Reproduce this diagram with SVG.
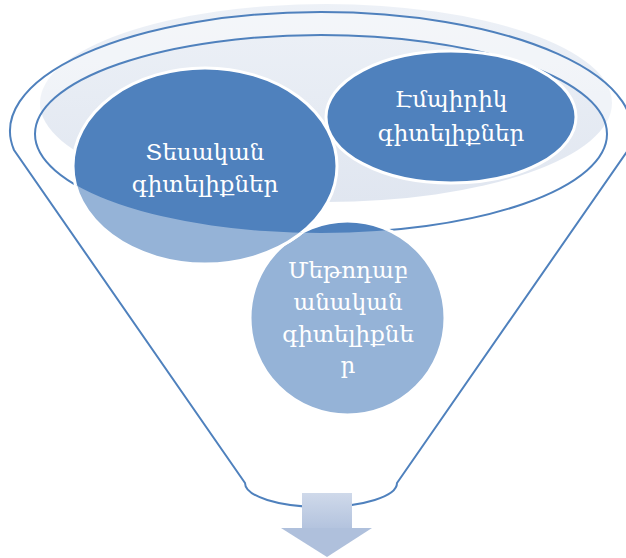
<svg xmlns="http://www.w3.org/2000/svg" width="626" height="558" viewBox="0 0 626 558">
<style>
.node{fill:#4F81BD;stroke:#FFFFFF;stroke-width:3}
.lite{fill:#95B3D7;stroke:#FFFFFF;stroke-width:3}
.line{fill:none;stroke:#4F81BD;stroke-width:2}
.lbl{font-family:"DejaVu Serif","Noto Sans",serif;font-size:23px;fill:#FFFFFF;text-anchor:middle}
</style>
<defs>
<linearGradient id="shade" x1="0" y1="0" x2="0" y2="1">
<stop offset="0" stop-color="#EDF1F7"/>
<stop offset="1" stop-color="#E0E6F0"/>
</linearGradient>
<linearGradient id="shaft" x1="0" y1="0" x2="0" y2="1">
<stop offset="0" stop-color="#CFD9EA"/>
<stop offset="1" stop-color="#B3C3DE"/>
</linearGradient>
<clipPath id="below">
<path d="M0,134 L35,134 A286,99 0 0 0 607,134 L626,134 L626,558 L0,558 Z"/>
</clipPath>
</defs>
<g id="funnel">
<ellipse cx="326" cy="103" rx="286" ry="99" fill="url(#shade)"/>
<path d="M14,150 A311,119 0 1 1 628,150 L397,483 A76,24 0 0 1 245,483 Z M35,134 A286,99 0 0 0 607,134 A286,99 0 0 0 35,134 Z" fill="#FFFFFF" fill-opacity="0.4" fill-rule="evenodd"/>
<path class="line" d="M14,150 A311,119 0 1 1 628,150 L397,483 A76,24 0 0 1 245,483 Z"/>
<ellipse class="line" cx="321" cy="134" rx="286" ry="99"/>
</g>
<g id="node3">
<ellipse class="node" cx="347.5" cy="318" rx="97.5" ry="97"/>
<ellipse class="lite" cx="347.5" cy="318" rx="97.5" ry="97" clip-path="url(#below)"/>
</g>
<g id="node1">
<ellipse class="node" cx="205" cy="166" rx="132" ry="98"/>
<ellipse class="lite" cx="205" cy="166" rx="132" ry="98" clip-path="url(#below)"/>
</g>
<g id="node2">
<ellipse class="node" cx="451" cy="117" rx="125" ry="66"/>
</g>
<g id="labels">
<text class="lbl" x="205" y="160">Տեսական</text>
<text class="lbl" x="205" y="192">գիտելիքներ</text>
<text class="lbl" x="451" y="107">Էմպիրիկ</text>
<text class="lbl" x="451" y="141">գիտելիքներ</text>
<text class="lbl" x="348" y="278">Մեթոդաբ</text>
<text class="lbl" x="348" y="310">անական</text>
<text class="lbl" x="348" y="342">գիտելիքնե</text>
<text class="lbl" x="348" y="373">ր</text>
</g>
<g id="connectors">
<rect x="302" y="493" width="50" height="36" fill="url(#shaft)"/>
<path d="M281,528 L372,528 L327,557 Z" fill="#AFC0DC"/>
</g>
</svg>
